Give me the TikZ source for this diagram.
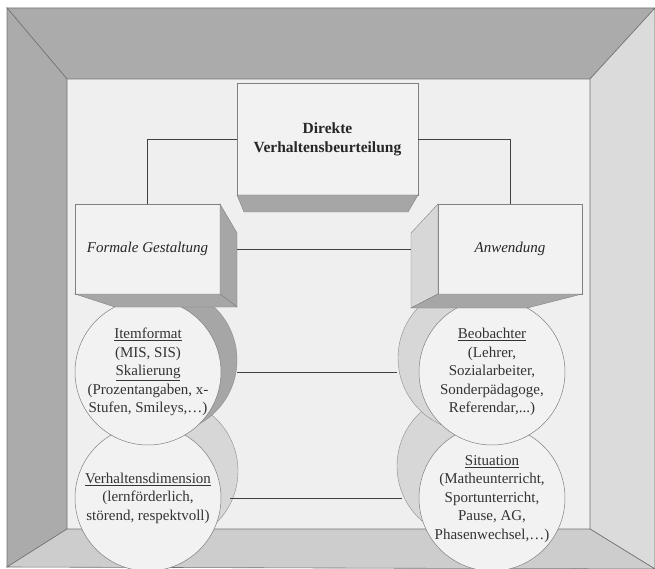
\documentclass[tikz,border=0pt]{standalone}
\usepackage{fontspec}
\setmainfont{Liberation Serif}
\usetikzlibrary{calc}
\definecolor{paper}{HTML}{F2F2F2}
\definecolor{room}{HTML}{EFEFEF}
\definecolor{wallDark}{HTML}{ABABAB}
\definecolor{wallLight}{HTML}{DBDBDB}
\definecolor{floorGray}{HTML}{CDCDCD}
\definecolor{darkShade}{HTML}{A6A6A6}
\definecolor{lightShade}{HTML}{D7D7D7}

\begin{document}
\begin{tikzpicture}[x=1pt, y=-1pt,
  wall/.style = {draw=black!55, line width=0.6pt},
  box/.style = {draw=black!50, line width=0.5pt, fill=paper, rectangle, inner sep=2pt, outer sep=0pt, text=black!85, font=\fontsize{15}{18.5}\selectfont},
  disc/.style = {draw=black!50, line width=0.5pt, fill=paper, circle, minimum size=146pt, inner sep=0pt, outer sep=0pt},
  txt/.style = {align=center, text=black!80, font=\fontsize{15}{18.5}\selectfont},
  link/.style = {draw=black!75, line width=0.8pt}]
\useasboundingbox (0,0) rectangle (655,569);

% room
\fill[room] (67,79) rectangle (590,529);
\fill[wallDark,wall] (7,8) -- (655,8) -- (590,79) -- (67,79) -- cycle;
\fill[wallDark,wall] (7,8) -- (67,79) -- (67,529) -- (7,567) -- cycle;
\fill[wallLight,wall] (655,8) -- (590,79) -- (590,529) -- (655,569) -- cycle;
\fill[floorGray,wall] (67,529) -- (590,529) -- (655,569) -- (7,567) -- cycle;

% lower circles
\coordinate (verhc) at (148,498);
\coordinate (sitc) at (492,498);
\begin{scope}
  \clip (148,300) rectangle (260,569);
  \fill[lightShade,draw=black!45] ($(verhc)+(17,-27)$) circle (73);
\end{scope}
\begin{scope}
  \clip (380,300) rectangle (492,569);
  \fill[lightShade,draw=black!45] ($(sitc)+(-22,-32)$) circle (73);
\end{scope}
\node[disc] (verh) at (verhc) {};
\node[disc] (sit) at (sitc) {};
\node[txt] (verhtxt) at (verh) {\underline{Verhaltensdimension}\\(lernförderlich,\\störend, respektvoll)};
\node[txt] (sittxt) at ($(sit)+(0,1)$) {\underline{Situation}\\(Matheunterricht,\\Sportunterricht,\\Pause, AG,\\Phasenwechsel,\dots)};

% upper circles
\coordinate (itemc) at (148,372);
\coordinate (beobc) at (492,372);
\begin{scope}
  \clip (148,280) rectangle (260,460);
  \fill[darkShade,draw=black!45] ($(itemc)+(16,-12)$) circle (73);
\end{scope}
\begin{scope}
  \clip (380,280) rectangle (492,460);
  \fill[lightShade,draw=black!45] ($(beobc)+(-21,-14)$) circle (73);
\end{scope}
\node[disc] (item) at (itemc) {};
\node[disc] (beob) at (beobc) {};
\node[txt] (itemtxt) at (item) {\underline{Itemformat}\\(MIS, SIS)\\\underline{Skalierung}\\(Prozentangaben, x-\\Stufen, Smileys,\dots)};
\node[txt] (beobtxt) at (beob) {\underline{Beobachter}\\(Lehrer,\\Sozialarbeiter,\\Sonderpädagoge,\\Referendar,...)};

% boxes
\node[box, minimum width=181pt, minimum height=112pt, align=center, font=\fontsize{15.5}{19}\selectfont\bfseries] (top) at (327.5,139) {Direkte\\Verhaltensbeurteilung};
\node[box, minimum width=145pt, minimum height=90pt] (form) at (147.5,249) {\itshape Formale Gestaltung};
\node[box, minimum width=144pt, minimum height=90pt] (anw) at (510,249) {\itshape Anwendung};

\filldraw[darkShade,draw=black!50] (top.south west) -- (top.south east) -- ++(-10,17) -- ($(top.south west)+(7,17)$) -- cycle;
\filldraw[darkShade,draw=black!50] (form.north east) -- ++(17,29) -- ++(0,74) -- (form.south east) -- cycle;
\filldraw[darkShade,draw=black!50] (form.south west) -- (form.south east) -- ++(17,13) -- ($(form.south west)+(40,13)$) -- cycle;
\filldraw[lightShade,draw=black!50] (anw.north west) -- ++(-27,29) -- ++(0,75) -- (anw.south west) -- cycle;
\filldraw[darkShade,draw=black!50] (anw.south west) -- (anw.south east) -- ++(-55,14) -- ($(anw.south west)+(-27,14)$) -- cycle;

% connectors
\draw[link] (top.west) -| (form.north);
\draw[link] (top.east) -| (anw.north);
\draw[link] ($(form.east)+(17,0)$) -- ($(anw.west)+(-27,0)$);
\draw[link] ($(item.east)+(16,0)$) -- ($(beob.west)+(-22,0)$);
\draw[link] ($(verh.east)+(9,0)$) -- ($(sit.west)+(-17,0)$);
\end{tikzpicture}
\end{document}
